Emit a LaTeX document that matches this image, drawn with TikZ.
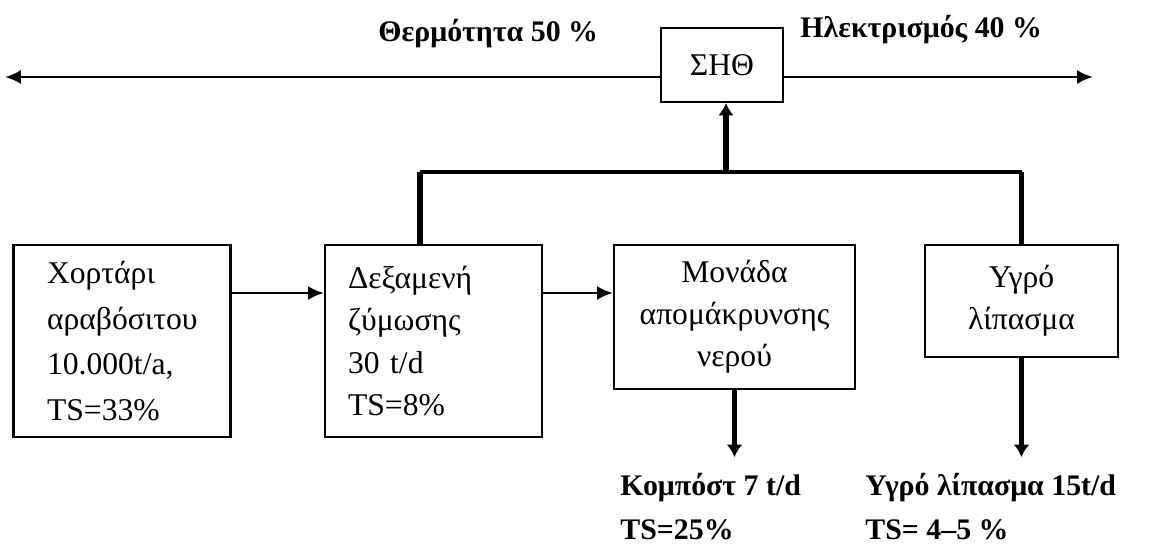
\documentclass[tikz,border=0pt]{standalone}
\usepackage{fontspec}
\setmainfont{Liberation Serif}
\usetikzlibrary{arrows.meta}

\begin{document}
\begin{tikzpicture}[%
        x = 0.02cm,
        y = -0.02cm,
        stage/.style = {draw, line width = 1.3pt, font = \fontsize{18}{24}\selectfont},
        flow/.style = {line width = 1.6pt, -{Latex[length = 9pt, width = 8pt]}},
        feed/.style = {line width = 3.2pt, -{Latex[length = 7pt, width = 9pt]}},
        bus/.style = {line width = 2.2pt},
        output/.style = {font = \bfseries\fontsize{17}{25}\selectfont, inner sep = 0pt, align = left}
    ]
    \useasboundingbox (0, 0) rectangle (1151, 549);

    % Process boxes.
    \node[stage, minimum width = 4.34cm, minimum height = 3.84cm,
        text width = 3.0cm, inner xsep = 0.67cm, align = left,
        font = \fontsize{18}{26}\selectfont] (grass) at (122, 341)
        {Χορτάρι\\ αραβόσιτου\\ 10.000t/a,\\ TS=33\%};
    \node[stage, minimum width = 4.34cm, minimum height = 3.84cm,
        text width = 3.42cm, inner xsep = 0.46cm, align = left] (digester) at (433.5, 341)
        {Δεξαμενή\\ ζύμωσης\\ 30 t/d\\ TS=8\%};
    \node[stage, minimum width = 4.82cm, minimum height = 2.88cm, align = center] (dewater) at (734.5, 317)
        {Μονάδα\\ απομάκρυνσης\\ νερού};
    \node[stage, minimum width = 3.86cm, minimum height = 2.24cm, align = center] (fertiliser) at (1021.5, 301)
        {Υγρό\\ λίπασμα};
    \node[stage, minimum width = 2.44cm, minimum height = 1.48cm] (chp) at (722, 65) {ΣΗΘ};

    % Free ends of the connectors.
    \coordinate (heatend) at (5, 77);
    \coordinate (powerend) at (1093, 77);
    \coordinate (feedlevel) at (0, 293);
    \coordinate (busleft) at (420, 172);
    \coordinate (busmid) at (726, 172);
    \coordinate (busright) at (1021.5, 172);
    \coordinate (outlevel) at (0, 457);

    % Heat and power from the CHP unit.
    \draw[flow] (chp.west |- heatend) -- (heatend);
    \draw[flow] (chp.east |- powerend) -- (powerend);
    \node[output, anchor = base west] (heat) at (378, 41) {Θερμότητα 50 \%};
    \node[output, anchor = base west] (power) at (800, 37) {Ηλεκτρισμός 40 \%};

    % Main line.
    \draw[flow] (grass.east |- feedlevel) -- (digester.west |- feedlevel);
    \draw[flow] (digester.east |- feedlevel) -- (dewater.west |- feedlevel);

    % Biogas bus up to the CHP unit.
    \draw[bus] (busleft) -- (busright);
    \draw[line width = 3.2pt] (digester.north -| busleft) -- (busleft);
    \draw[line width = 3.2pt] (fertiliser.north) -- (busright);
    \draw[feed] (busmid) -- (busmid |- chp.south);

    % Products.
    \draw[feed] (dewater.south) -- (dewater.south |- outlevel);
    \draw[feed] (fertiliser.south) -- (fertiliser.south |- outlevel);
    \node[output, anchor = north west] (compost) at (620, 473) {Κομπόστ 7 t/d\\ TS=25\%};
    \node[output, anchor = north west] (liquid) at (865, 473) {Υγρό λίπασμα 15t/d\\ TS= 4--5 \%};
\end{tikzpicture}
\end{document}
